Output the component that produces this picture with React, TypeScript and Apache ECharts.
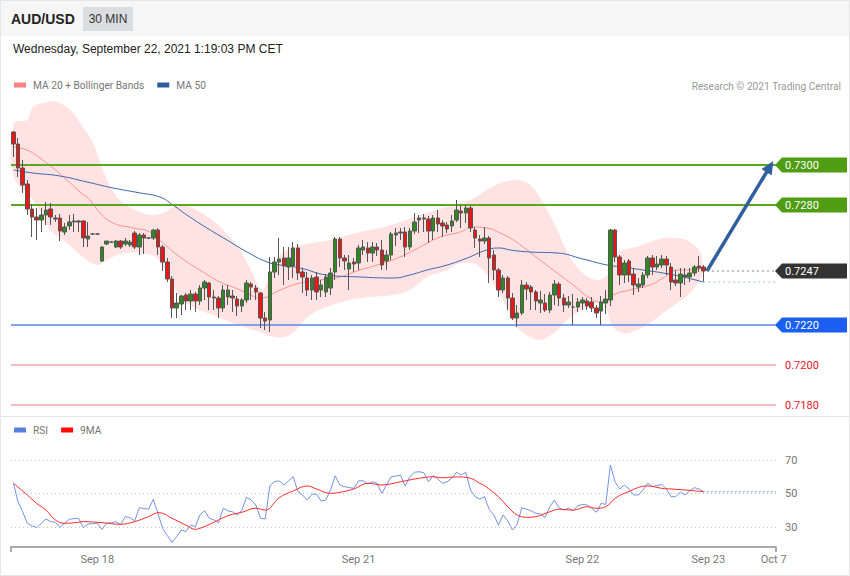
import React, { useEffect, useRef } from 'react';
import * as echarts from 'echarts';

const FONT = 'Roboto, "Liberation Sans", Arial, sans-serif';
const HEAD_FONT = '"Liberation Sans", Arial, sans-serif';
const SLOT_COUNT = 164;

// [open, close, low, high]
const candles: number[][] = [
[0.73165,0.73105,0.73040,0.73170],[0.73105,0.72985,0.72940,0.73135],[0.72985,0.72900,0.72860,0.73025],[0.72905,0.72780,0.72750,0.72925],
[0.72780,0.72740,0.72640,0.72805],[0.72740,0.72725,0.72625,0.72785],[0.72725,0.72750,0.72665,0.72785],[0.72750,0.72775,0.72700,0.72815],
[0.72780,0.72740,0.72700,0.72810],[0.72735,0.72730,0.72715,0.72750],[0.72735,0.72670,0.72620,0.72755],[0.72665,0.72690,0.72650,0.72710],
[0.72695,0.72715,0.72675,0.72750],[0.72715,0.72720,0.72665,0.72755],[0.72720,0.72715,0.72665,0.72725],[0.72720,0.72635,0.72590,0.72725],
[0.72630,0.72645,0.72590,0.72715],[0.72655,0.72655,0.72650,0.72660],[0.72655,0.72655,0.72650,0.72660],[0.72520,0.72590,0.72515,0.72595],
[0.72605,0.72620,0.72600,0.72620],[0.72615,0.72615,0.72610,0.72620],[0.72590,0.72620,0.72585,0.72625],[0.72620,0.72590,0.72580,0.72625],
[0.72605,0.72620,0.72595,0.72635],[0.72600,0.72615,0.72590,0.72625],[0.72660,0.72590,0.72580,0.72670],[0.72590,0.72650,0.72550,0.72660],
[0.72650,0.72635,0.72555,0.72660],[0.72635,0.72635,0.72630,0.72640],[0.72635,0.72675,0.72625,0.72680],[0.72675,0.72590,0.72550,0.72685],
[0.72590,0.72515,0.72470,0.72600],[0.72515,0.72430,0.72415,0.72535],[0.72430,0.72285,0.72235,0.72445],[0.72285,0.72310,0.72235,0.72360],
[0.72305,0.72345,0.72250,0.72350],[0.72350,0.72320,0.72275,0.72360],[0.72320,0.72355,0.72275,0.72375],[0.72355,0.72320,0.72265,0.72365],
[0.72320,0.72385,0.72300,0.72400],[0.72385,0.72415,0.72325,0.72425],[0.72410,0.72340,0.72275,0.72415],[0.72340,0.72335,0.72275,0.72375],
[0.72335,0.72285,0.72235,0.72345],[0.72285,0.72375,0.72265,0.72400],[0.72340,0.72375,0.72300,0.72400],[0.72345,0.72335,0.72265,0.72375],
[0.72330,0.72295,0.72245,0.72345],[0.72295,0.72325,0.72265,0.72335],[0.72325,0.72410,0.72310,0.72425],[0.72405,0.72390,0.72325,0.72415],
[0.72385,0.72365,0.72325,0.72400],[0.72360,0.72235,0.72185,0.72365],[0.72235,0.72220,0.72175,0.72265],[0.72225,0.72465,0.72165,0.72540],
[0.72465,0.72515,0.72435,0.72540],[0.72515,0.72530,0.72450,0.72635],[0.72535,0.72495,0.72400,0.72590],[0.72490,0.72535,0.72425,0.72590],
[0.72495,0.72585,0.72435,0.72615],[0.72585,0.72460,0.72425,0.72605],[0.72465,0.72440,0.72360,0.72485],[0.72435,0.72375,0.72345,0.72465],
[0.72375,0.72435,0.72325,0.72450],[0.72440,0.72365,0.72325,0.72465],[0.72375,0.72400,0.72340,0.72425],[0.72365,0.72440,0.72340,0.72455],
[0.72385,0.72460,0.72350,0.72485],[0.72465,0.72630,0.72425,0.72640],[0.72630,0.72535,0.72490,0.72640],[0.72535,0.72520,0.72475,0.72550],
[0.72480,0.72510,0.72375,0.72550],[0.72515,0.72505,0.72465,0.72535],[0.72510,0.72585,0.72475,0.72600],[0.72575,0.72590,0.72550,0.72625],
[0.72585,0.72560,0.72515,0.72615],[0.72560,0.72590,0.72515,0.72615],[0.72590,0.72575,0.72545,0.72610],[0.72575,0.72500,0.72475,0.72625],
[0.72520,0.72550,0.72475,0.72575],[0.72550,0.72655,0.72525,0.72665],[0.72650,0.72660,0.72595,0.72685],[0.72660,0.72665,0.72625,0.72685],
[0.72665,0.72590,0.72540,0.72690],[0.72590,0.72670,0.72575,0.72685],[0.72670,0.72715,0.72655,0.72760],[0.72725,0.72735,0.72660,0.72750],
[0.72735,0.72730,0.72665,0.72755],[0.72730,0.72670,0.72610,0.72745],[0.72670,0.72735,0.72625,0.72750],[0.72735,0.72705,0.72665,0.72775],
[0.72710,0.72695,0.72640,0.72725],[0.72700,0.72680,0.72660,0.72715],[0.72695,0.72720,0.72665,0.72750],[0.72725,0.72775,0.72715,0.72825],
[0.72770,0.72760,0.72685,0.72800],[0.72760,0.72785,0.72710,0.72800],[0.72785,0.72685,0.72665,0.72795],[0.72675,0.72635,0.72585,0.72690],
[0.72630,0.72620,0.72540,0.72650],[0.72620,0.72635,0.72605,0.72690],[0.72635,0.72535,0.72410,0.72645],[0.72550,0.72475,0.72425,0.72575],
[0.72475,0.72375,0.72340,0.72485],[0.72375,0.72435,0.72360,0.72450],[0.72435,0.72335,0.72275,0.72445],[0.72335,0.72235,0.72225,0.72360],
[0.72235,0.72260,0.72190,0.72300],[0.72260,0.72400,0.72250,0.72425],[0.72400,0.72380,0.72325,0.72415],[0.72390,0.72365,0.72275,0.72400],
[0.72365,0.72320,0.72275,0.72375],[0.72310,0.72325,0.72260,0.72370],[0.72310,0.72275,0.72265,0.72355],[0.72275,0.72350,0.72260,0.72365],
[0.72350,0.72405,0.72300,0.72425],[0.72405,0.72335,0.72295,0.72415],[0.72335,0.72300,0.72265,0.72355],[0.72300,0.72315,0.72285,0.72345],
[0.72290,0.72290,0.72200,0.72355],[0.72290,0.72315,0.72265,0.72335],[0.72310,0.72325,0.72275,0.72340],[0.72320,0.72295,0.72275,0.72335],
[0.72315,0.72285,0.72265,0.72340],[0.72285,0.72260,0.72235,0.72300],[0.72270,0.72315,0.72200,0.72345],[0.72310,0.72330,0.72255,0.72375],
[0.72325,0.72675,0.72295,0.72680],[0.72675,0.72540,0.72515,0.72680],[0.72540,0.72450,0.72400,0.72550],[0.72450,0.72510,0.72410,0.72525],
[0.72520,0.72450,0.72415,0.72530],[0.72455,0.72400,0.72350,0.72485],[0.72390,0.72405,0.72365,0.72435],[0.72400,0.72450,0.72385,0.72465],
[0.72450,0.72535,0.72435,0.72545],[0.72535,0.72490,0.72450,0.72550],[0.72490,0.72505,0.72475,0.72545],[0.72500,0.72530,0.72485,0.72550],
[0.72530,0.72500,0.72450,0.72545],[0.72490,0.72415,0.72375,0.72510],[0.72425,0.72410,0.72395,0.72475],[0.72410,0.72455,0.72340,0.72485],
[0.72440,0.72450,0.72400,0.72485],[0.72440,0.72460,0.72415,0.72485],[0.72460,0.72490,0.72445,0.72500],[0.72495,0.72485,0.72465,0.72545],
[0.72490,0.72470,0.72415,0.72500],
];

// [slot index, price]
const upperBand: number[][] = [
[0.1,0.73210],[2.9,0.73225],[4.2,0.73290],[7.2,0.73315],[9.4,0.73315],[12.2,0.73275],[14.9,0.73190],[17.1,0.73110],[19.2,0.72975],
[21.2,0.72875],[23.3,0.72815],[26.1,0.72775],[29.3,0.72750],[32.1,0.72760],[34.7,0.72795],[37.2,0.72795],[40.0,0.72765],[43.2,0.72715],
[46.0,0.72650],[48.6,0.72575],[50.7,0.72485],[52.5,0.72400],[53.5,0.72375],[55.0,0.72450],[57.2,0.72550],[59.3,0.72585],[61.5,0.72600],
[67.9,0.72625],[74.3,0.72665],[78.6,0.72685],[82.9,0.72715],[89.3,0.72765],[93.6,0.72795],[97.9,0.72825],[102.2,0.72885],[105.0,0.72915],
[108.0,0.72925],[110.8,0.72900],[113.6,0.72810],[116.6,0.72675],[119.3,0.72540],[122.1,0.72460],[125.1,0.72425],[127.3,0.72450],
[128.3,0.72535],[130.7,0.72575],[133.7,0.72590],[136.5,0.72615],[139.3,0.72635],[142.3,0.72635],[145.1,0.72615],[147.2,0.72565],[148.1,0.72475],
];
const lowerBand: number[][] = [
[0.1,0.72940],[4.2,0.72825],[6.4,0.72740],[7.9,0.72675],[11.5,0.72610],[14.9,0.72540],[17.9,0.72500],[20.1,0.72525],[22.9,0.72555],
[27.2,0.72560],[30.8,0.72535],[33.6,0.72425],[35.7,0.72340],[38.5,0.72290],[42.8,0.72250],[47.1,0.72210],[50.1,0.72185],[52.9,0.72165],
[56.1,0.72140],[59.3,0.72150],[61.5,0.72200],[63.6,0.72250],[67.2,0.72290],[72.2,0.72325],[76.5,0.72340],[81.4,0.72350],[85.0,0.72375],
[88.7,0.72440],[93.0,0.72475],[95.8,0.72510],[99.4,0.72500],[102.8,0.72410],[106.5,0.72260],[108.6,0.72175],[112.9,0.72125],[116.1,0.72165],
[119.3,0.72235],[122.6,0.72285],[125.1,0.72315],[126.8,0.72300],[128.3,0.72200],[130.7,0.72160],[133.7,0.72175],[136.5,0.72210],
[139.3,0.72260],[142.3,0.72310],[145.1,0.72360],[147.2,0.72425],[148.1,0.72475],
];
const ma20: number[][] = [
[0.1,0.73090],[2.9,0.73075],[5.7,0.73035],[8.5,0.72985],[11.5,0.72925],[14.3,0.72865],[16.4,0.72825],[18.6,0.72760],[21.4,0.72710],
[25.7,0.72685],[29.3,0.72665],[32.1,0.72610],[35.7,0.72540],[40.0,0.72475],[44.3,0.72415],[47.1,0.72390],[50.1,0.72360],[52.9,0.72335],
[57.2,0.72375],[61.5,0.72410],[65.7,0.72425],[70.0,0.72440],[74.3,0.72475],[78.0,0.72500],[82.9,0.72540],[87.2,0.72590],[91.5,0.72640],
[95.8,0.72665],[98.5,0.72690],[101.5,0.72685],[104.3,0.72660],[106.5,0.72635],[109.3,0.72590],[112.9,0.72525],[116.6,0.72460],
[120.0,0.72400],[123.6,0.72335],[125.8,0.72315],[127.3,0.72315],[128.6,0.72350],[132.2,0.72375],[136.5,0.72400],[139.3,0.72435],
[142.3,0.72475],[145.1,0.72475],[147.9,0.72485],
];
const ma50: number[][] = [
[0.1,0.72975],[4.2,0.72960],[10.0,0.72945],[15.8,0.72915],[21.4,0.72885],[27.2,0.72860],[31.4,0.72840],[34.2,0.72800],[37.2,0.72750],
[41.5,0.72685],[45.8,0.72625],[50.1,0.72565],[54.4,0.72515],[57.2,0.72500],[61.5,0.72485],[67.2,0.72450],[74.3,0.72440],[81.4,0.72435],
[85.0,0.72450],[88.7,0.72475],[93.0,0.72500],[97.3,0.72535],[101.5,0.72575],[104.3,0.72585],[106.5,0.72575],[110.8,0.72565],
[116.6,0.72560],[122.1,0.72530],[127.3,0.72500],[130.7,0.72490],[135.0,0.72475],[139.3,0.72460],[143.6,0.72440],[147.9,0.72415],
];

const rsi: number[] = [
56.2,45.1,39.1,32.2,30.6,29.6,32.2,34.8,33.2,32.8,29.8,32.2,34.6,35.0,35.2,29.6,31.8,32.0,32.2,28.6,
32.2,32.5,33.2,31.5,36.2,35.5,33.6,41.5,41.0,40.6,46.5,38.2,29.2,25.0,20.9,24.2,28.2,27.2,31.2,30.2,
37.2,39.7,35.2,34.2,32.6,41.2,39.6,39.1,37.2,40.1,47.7,46.1,43.1,35.2,34.8,54.7,57.1,57.5,55.1,57.5,
60.0,51.1,49.1,46.1,49.5,49.5,45.5,46.1,52.1,60.6,55.1,54.1,53.5,53.1,57.6,57.6,55.7,57.0,56.1,50.1,
55.1,60.0,60.4,61.0,54.5,60.0,62.7,63.0,62.4,57.0,60.6,58.7,56.1,57.0,59.1,62.7,61.0,62.7,52.1,48.1,
46.7,48.1,40.6,37.2,31.2,37.2,33.6,28.2,31.6,41.5,40.7,39.6,38.2,37.8,35.6,42.1,46.1,41.5,40.1,41.2,
39.7,42.7,43.5,43.1,41.2,38.8,44.1,43.5,67.0,57.0,52.7,55.1,52.7,49.1,49.1,52.1,56.1,54.1,54.7,55.5,
52.7,48.1,48.1,50.7,49.1,51.5,53.5,52.7,51.1,
];
const rsi9ma: number[][] = [
[0,56.2],[3,49.1],[5,44.1],[7,40.1],[9,34.2],[11,32.2],[14,32.8],[15,33.2],[19,32.6],[23,31.6],[26,33.2],[29,36.2],[31,38.5],
[32,38.2],[34,35.2],[37,31.2],[39,28.6],[40,29.2],[43,32.8],[45,35.6],[47,37.6],[49,38.8],[52,41.2],[54,40.1],[57,47.5],[60,51.5],
[63,54.5],[65,52.7],[68,50.1],[70,50.7],[73,52.7],[76,56.1],[79,55.1],[83,57.0],[87,59.1],[90,60.0],[92,59.4],[95,59.9],[98,59.1],
[100,56.1],[101,54.7],[104,48.1],[106,42.1],[108,37.2],[110,35.8],[112,36.2],[115,39.1],[117,40.6],[120,40.1],[123,42.1],[125,41.2],
[127,42.1],[129,47.1],[131,50.1],[136,54.5],[139,53.1],[141,52.7],[144,52.1],[148,51.1],
];

const dateLabels = ['Sep 18', 'Sep 21', 'Sep 22', 'Sep 23', 'Oct 7'];
const dateLabelSlots = [18, 74, 122, 149, 163];
const resistanceLevels = [0.73, 0.728];
const supportLevels = [0.722, 0.72, 0.718];
const lastPrice = 0.7247;
const lastMa50 = 0.72415;
const lastRsi = 51.1;
const arrowFrom = [148.7, 0.7247];
const arrowTo = [162.2, 0.72992];

const slotNames = Array.from({ length: SLOT_COUNT }, (_, i) => String(i));
const slotLabels = slotNames.map((_, i) => {
  const k = dateLabelSlots.indexOf(i);
  return k >= 0 ? dateLabels[k] : '';
});

const GREEN = '#4f9d12';
const GREEN_LINE = '#5aa81e';

function buildOption(): any {
  const levelLine = (v: number, color: string, width: number) => ({ yAxis: v, lineStyle: { color, width, type: 'solid' } });
  const legendText = { color: '#777', fontSize: 10.2, fontFamily: FONT, padding: [0, 0, 0, 2] };
  return {
    animation: false,
    backgroundColor: '#ffffff',
    textStyle: { fontFamily: FONT },
    grid: [
      { left: 11, top: 95, width: 765, height: 320 },
      { left: 11, top: 426.5, width: 765, height: 134 },
    ],
    legend: [
      {
        data: ['MA 20 + Bollinger Bands', 'MA 50'], left: 14, top: 80, padding: 0, icon: 'rect',
        itemWidth: 12, itemHeight: 5, itemGap: 13, selectedMode: false, textStyle: legendText,
      },
      {
        data: ['RSI', '9MA'], left: 14, top: 425, padding: 0, icon: 'rect',
        itemWidth: 12, itemHeight: 5, itemGap: 13, selectedMode: false, textStyle: legendText,
      },
    ],
    xAxis: [
      { type: 'category', gridIndex: 0, data: slotNames, show: false, boundaryGap: true },
      { type: 'value', gridIndex: 0, min: -0.5, max: SLOT_COUNT - 0.5, show: false },
      {
        type: 'category', gridIndex: 1, data: slotLabels, boundaryGap: true, offset: -13.5,
        axisLine: { show: true, lineStyle: { color: '#aaaaaa', width: 2 } },
        axisTick: {
          show: true, length: 5, lineStyle: { color: '#aaaaaa', width: 2 },
          interval: (i: number) => i === 0,
        },
        axisLabel: { interval: 0, color: '#777', fontSize: 11, margin: 7, fontFamily: FONT },
        splitLine: { show: false },
      },
      { type: 'value', gridIndex: 1, min: -0.5, max: SLOT_COUNT - 0.5, show: false },
    ],
    yAxis: [
      { type: 'value', gridIndex: 0, min: 0.7175, max: 0.7335, show: false },
      {
        type: 'value', gridIndex: 1, min: 10, max: 90, interval: 20, position: 'right',
        axisLine: { show: false }, axisTick: { show: false },
        axisLabel: {
          color: '#777', fontSize: 11, margin: 9, fontFamily: FONT,
          formatter: (v: number) => (v === 10 || v === 90 ? '' : String(v)),
        },
        splitLine: { show: true, showMinLine: false, showMaxLine: false, lineStyle: { color: '#c4c4c4', width: 1, type: [1, 3] } },
      },
    ],
    series: [
      {
        name: 'bands', type: 'custom', xAxisIndex: 1, yAxisIndex: 0, data: [[0, 0.725]], z: 1, silent: true,
        renderItem: (_params: any, api: any) => {
          const top = upperBand.map((p) => api.coord(p));
          const bottom = lowerBand.slice().reverse().map((p) => api.coord(p));
          return {
            type: 'polygon',
            shape: { points: top.concat(bottom), smooth: 0.35 },
            style: { fill: '#ffe3e3' },
          };
        },
      },
      {
        name: 'MA 20 + Bollinger Bands', type: 'line', xAxisIndex: 1, yAxisIndex: 0, data: ma20, smooth: 0.5, symbol: 'none', z: 4,
        itemStyle: { color: '#ff8282' }, lineStyle: { color: '#ff9090', width: 1 }, silent: true,
      },
      {
        name: 'MA 50', type: 'line', xAxisIndex: 1, yAxisIndex: 0, data: ma50, smooth: 0.5, symbol: 'none', z: 4,
        itemStyle: { color: '#2d5d9c' }, lineStyle: { color: '#3c66ab', width: 1 }, silent: true,
        markLine: {
          silent: true, symbol: ['none', 'none'], label: { show: false }, precision: 5,
          data: [
            levelLine(resistanceLevels[0], GREEN_LINE, 2),
            levelLine(resistanceLevels[1], GREEN_LINE, 2),
            levelLine(supportLevels[0], '#5a88e8', 1.5),
            levelLine(supportLevels[1], '#f6a6a6', 1.5),
            levelLine(supportLevels[2], '#f6a6a6', 1.5),
          ],
        },
      },
      {
        name: 'AUD/USD', type: 'candlestick', xAxisIndex: 0, yAxisIndex: 0, data: candles, barWidth: 4, z: 5, silent: true,
        itemStyle: { color: '#2f8a1e', color0: '#f01414', borderColor: '#555555', borderColor0: '#555555', borderWidth: 1 },
      },
      {
        name: 'ma50ext', type: 'line', xAxisIndex: 1, yAxisIndex: 0, data: [[147.9, lastMa50], [SLOT_COUNT - 0.5, lastMa50]],
        symbol: 'none', z: 6, silent: true, lineStyle: { color: '#a9bbdd', width: 1, type: [2, 3] },
      },
      {
        name: 'lastext', type: 'line', xAxisIndex: 1, yAxisIndex: 0, data: [[148.7, lastPrice], [SLOT_COUNT - 0.5, lastPrice]],
        symbol: 'none', z: 6, silent: true, lineStyle: { color: '#8a8a8a', width: 1, type: [2, 3] },
        markLine: {
          silent: true, symbol: ['none', 'triangle'], symbolSize: [12, 13], label: { show: false }, precision: 5,
          lineStyle: { color: '#2f5f9f', width: 3.5, type: 'solid' },
          data: [[{ coord: arrowFrom }, { coord: arrowTo }]],
        },
      },
      {
        name: 'RSI', type: 'line', xAxisIndex: 2, yAxisIndex: 1, data: rsi, symbol: 'none', z: 3, silent: true,
        itemStyle: { color: '#5b7fe0' }, lineStyle: { color: '#7393ea', width: 1 },
      },
      {
        name: '9MA', type: 'line', xAxisIndex: 3, yAxisIndex: 1, data: rsi9ma, smooth: 0.4, symbol: 'none', z: 4, silent: true,
        itemStyle: { color: '#ff0a0a' }, lineStyle: { color: '#ff2a2a', width: 1 },
      },
      {
        name: 'rsiext', type: 'line', xAxisIndex: 3, yAxisIndex: 1, data: [[147.8, lastRsi], [SLOT_COUNT - 0.5, lastRsi]],
        symbol: 'none', z: 3, silent: true, lineStyle: { color: '#aabcf0', width: 1.5, type: [2, 2] },
      },
    ],
  };
}

function txt(x: number, y: number, text: string, fill: string, fontSize: number, align = 'left', weight = 'normal', family = FONT) {
  return {
    type: 'text', x, y, silent: true,
    style: {
      text, fill, fontSize, fontWeight: weight, fontFamily: family,
      align, textAlign: align, verticalAlign: 'middle', textVerticalAlign: 'middle',
    },
  };
}

export default function App() {
  const ref = useRef<HTMLDivElement>(null);
  useEffect(() => {
    if (!ref.current) return;
    const chart = echarts.init(ref.current, undefined, { renderer: 'svg' });
    chart.setOption(buildOption());

    const tagLevels = [
      { value: resistanceLevels[0], bg: GREEN },
      { value: resistanceLevels[1], bg: GREEN },
      { value: lastPrice, bg: '#333333' },
      { value: supportLevels[0], bg: '#1b5ff2' },
    ];
    const plainLevels = [supportLevels[1], supportLevels[2]];
    const py = (v: number) => chart.convertToPixel({ yAxisIndex: 0 }, v) as unknown as number;

    const tagEls: any[] = [];
    tagLevels.forEach((t) => {
      const y = py(t.value);
      tagEls.push({
        type: 'polygon', silent: true,
        shape: { points: [[775, y], [782, y - 7.5], [847, y - 7.5], [847, y + 7.5], [782, y + 7.5]] },
        style: { fill: t.bg },
      });
      tagEls.push(txt(785, y, t.value.toFixed(4), '#ffffff', 11));
    });
    plainLevels.forEach((v) => {
      tagEls.push(txt(785, py(v), v.toFixed(4), '#e8141c', 11));
    });

    chart.setOption({
      graphic: [
        { type: 'rect', silent: true, shape: { x: 0, y: 0, width: 850, height: 36 }, style: { fill: '#f6f6f6' } },
        { type: 'rect', silent: true, shape: { x: 83, y: 7, width: 50, height: 24 }, style: { fill: '#dcdde1' } },
        txt(11, 19, 'AUD/USD', '#222222', 14, 'left', 'bold', HEAD_FONT),
        txt(108, 19, '30 MIN', '#333333', 12, 'center', 'normal', HEAD_FONT),
        txt(13, 49, 'Wednesday, September 22, 2021 1:19:03 PM CET', '#222222', 12, 'left', 'normal', HEAD_FONT),
        txt(841, 86, 'Research \u00a9 2021 Trading Central', '#999999', 10.2, 'right'),
        { type: 'rect', silent: true, shape: { x: 0.5, y: 0.5, width: 849, height: 575 }, style: { fill: 'none', stroke: '#e6e6e6', lineWidth: 1 } },
        { type: 'line', silent: true, shape: { x1: 0, y1: 416.5, x2: 850, y2: 416.5 }, style: { stroke: '#e6e6e6', lineWidth: 1 } },
        ...tagEls,
      ],
    });
    return () => chart.dispose();
  }, []);
  return <div ref={ref} style={{ position: 'absolute', left: 0, top: 0, width: 850, height: 576 }} />;
}
